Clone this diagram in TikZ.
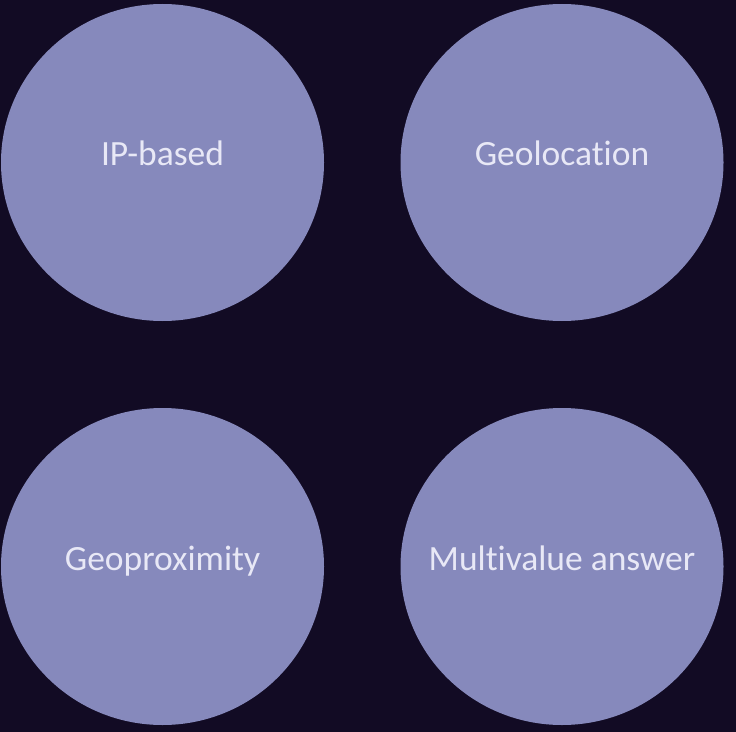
\documentclass[tikz,border=0pt]{standalone}
\usepackage{fontspec}
\setmainfont[Ligatures=NoCommon]{Carlito}
\definecolor{bgdark}{HTML}{120B24}
\definecolor{disc}{HTML}{8689BC}
\definecolor{disctext}{HTML}{E8E8F6}
\begin{document}
\begin{tikzpicture}[x=1bp,y=-1bp,
  disc/.style={fill=disc,draw=none},
  label/.style={text=disctext,font=\fontsize{35.5bp}{40bp}\selectfont,inner sep=0pt,anchor=base}]
  \fill[bgdark] (0,0) rectangle (736,732);
  \useasboundingbox (0,0) rectangle (736,732);
  % four discs
  \fill[disc] (162.5,162.5) ellipse [x radius=161.5,y radius=158.5];
  \fill[disc] (562,162.5) ellipse [x radius=161.5,y radius=158.5];
  \fill[disc] (162.5,566.5) ellipse [x radius=161.5,y radius=158.5];
  \fill[disc] (562,566.5) ellipse [x radius=161.5,y radius=158.5];
  % captions, set on a common baseline per row
  \node[label] (ip) at (162.5,165.5) {IP-based};
  \node[label] (geo) at (562,165.5) {Geolocation};
  \node[label] (prox) at (162.5,570) {Geoproximity};
  \node[label] (multi) at (562,570) {Multivalue answer};
\end{tikzpicture}
\end{document}
